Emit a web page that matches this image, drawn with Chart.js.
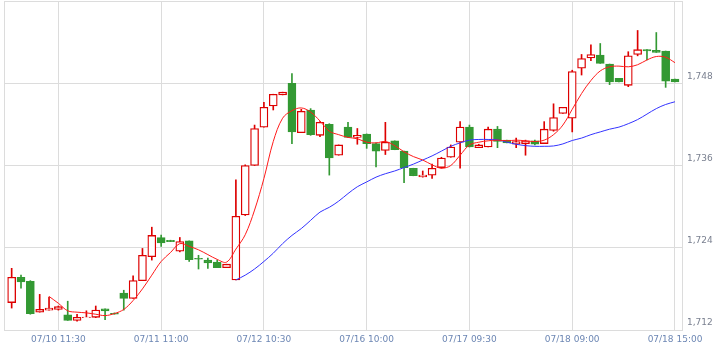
<!DOCTYPE html>
<html>
<head>
<meta charset="utf-8">
<script src="https://cdn.jsdelivr.net/npm/chart.js@4/dist/chart.umd.min.js"></script>
<style>
  body { margin: 0; background: #fff; }
  canvas { display: block; }
</style>
</head>
<body>
<canvas id="candleChart" width="723" height="351"></canvas>
<script>
// candle values, one entry per bar (index 0..71)
const opens = [1716.0, 1719.7, 1719.1, 1714.6, 1714.9, 1715.0, 1714.2, 1713.4, 1713.8, 1713.85,
  1715.1, 1714.45, 1717.4, 1716.6, 1719.2, 1722.7, 1725.5, 1725.1, 1723.5, 1725.0,
  1722.45, 1722.2, 1721.9, 1721.1, 1719.3, 1728.8, 1736.0, 1741.6, 1744.7, 1746.3,
  1748.0, 1740.8, 1744.1, 1740.4, 1742.0, 1737.5, 1741.6, 1740.1, 1740.6, 1739.2,
  1738.2, 1739.6, 1738.1, 1735.6, 1734.35, 1734.6, 1735.7, 1737.2, 1739.4, 1741.6,
  1738.6, 1738.7, 1741.3, 1739.7, 1739.1, 1739.2, 1739.6, 1739.2, 1741.1, 1743.6,
  1742.9, 1750.2, 1751.7, 1752.1, 1750.8, 1748.7, 1747.7, 1752.2, 1752.9, 1752.8,
  1752.7, 1748.6];
const highs = [1721.0, 1720.0, 1719.2, 1717.2, 1716.8, 1715.5, 1716.2, 1714.3, 1714.8, 1715.5,
  1715.1, 1714.5, 1717.8, 1719.9, 1723.9, 1727.0, 1725.85, 1725.1, 1725.5, 1725.0,
  1722.9, 1722.5, 1722.2, 1721.6, 1733.9, 1736.1, 1741.9, 1745.2, 1746.4, 1746.7,
  1749.4, 1744.2, 1744.3, 1742.4, 1742.1, 1739.0, 1742.3, 1741.4, 1740.6, 1739.3,
  1742.3, 1739.6, 1738.1, 1735.6, 1735.2, 1736.2, 1737.2, 1739.0, 1742.4, 1741.9,
  1739.1, 1741.6, 1741.7, 1739.7, 1740.0, 1739.7, 1739.7, 1742.4, 1745.0, 1744.5,
  1749.9, 1752.2, 1753.6, 1753.8, 1750.8, 1748.7, 1752.6, 1755.7, 1752.9, 1755.4,
  1752.7, 1748.6];
const lows = [1715.2, 1718.1, 1714.3, 1714.6, 1714.9, 1714.9, 1713.4, 1713.3, 1713.8, 1713.8,
  1713.5, 1714.3, 1714.9, 1716.6, 1719.2, 1722.2, 1724.2, 1724.9, 1723.4, 1722.0,
  1720.9, 1721.0, 1721.1, 1721.1, 1719.3, 1728.7, 1736.0, 1741.6, 1744.1, 1746.3,
  1739.2, 1740.8, 1740.4, 1740.2, 1734.6, 1737.5, 1740.1, 1739.1, 1738.5, 1735.8,
  1737.6, 1738.3, 1733.5, 1734.5, 1734.3, 1734.1, 1735.6, 1737.2, 1735.6, 1738.7,
  1738.6, 1738.7, 1738.6, 1739.3, 1738.6, 1737.5, 1739.0, 1739.2, 1741.0, 1743.6,
  1740.9, 1749.2, 1751.3, 1750.9, 1747.8, 1748.2, 1747.5, 1752.0, 1751.4, 1752.5,
  1747.4, 1748.2];
const closes = [1719.7, 1719.0, 1714.4, 1715.0, 1715.2, 1715.4, 1713.4, 1713.85, 1713.9, 1714.9,
  1714.8, 1714.3, 1716.6, 1719.2, 1722.9, 1725.8, 1724.7, 1724.9, 1724.9, 1722.25,
  1722.35, 1721.8, 1721.1, 1721.6, 1728.6, 1736.0, 1741.4, 1744.5, 1746.4, 1746.7,
  1740.9, 1743.9, 1740.5, 1742.3, 1737.1, 1739.0, 1740.1, 1740.4, 1739.2, 1738.1,
  1739.4, 1738.3, 1735.7, 1734.5, 1734.6, 1735.6, 1737.1, 1738.7, 1741.6, 1738.7,
  1739.0, 1741.3, 1739.5, 1739.3, 1739.5, 1739.6, 1739.1, 1741.3, 1743.0, 1744.5,
  1749.7, 1751.6, 1752.2, 1750.9, 1748.2, 1748.2, 1752.0, 1752.9, 1752.7, 1752.5,
  1748.3, 1748.2];

// moving average lines
const maShortStart = 4;
const maShort = [1716.9, 1715.9, 1714.8, 1714.6, 1714.5, 1714.3, 1714.1, 1714.4, 1715.0, 1716.3,
  1718.0, 1720.0, 1722.0, 1723.3, 1724.6, 1724.2, 1723.7, 1723.0, 1722.3, 1721.9,
  1723.8, 1725.9, 1729.5, 1734.1, 1739.5, 1742.9, 1744.0, 1744.4, 1743.8, 1742.5,
  1741.0, 1740.5, 1740.1, 1739.9, 1739.4, 1739.3, 1739.5, 1738.9, 1738.0, 1737.3,
  1736.8, 1736.1, 1735.6, 1736.0, 1737.5, 1739.0, 1739.4, 1739.6, 1739.7, 1739.6,
  1739.7, 1739.6, 1739.5, 1739.7, 1740.5, 1741.9, 1744.2, 1746.5, 1748.4, 1749.8,
  1750.4, 1750.5, 1750.4, 1750.7, 1751.4, 1751.9, 1751.8, 1751.0];
const maLongStart = 24;
const maLong = [1719.3, 1720.0, 1720.9, 1722.0, 1723.2, 1724.6, 1725.8, 1726.8, 1728.0, 1729.2,
  1729.9, 1730.8, 1731.9, 1732.9, 1733.6, 1734.3, 1734.8, 1735.2, 1735.7, 1736.2,
  1736.8, 1737.4, 1738.1, 1738.8, 1739.3, 1739.7, 1739.8, 1739.8, 1739.75, 1739.4,
  1739.1, 1738.9, 1738.8, 1738.8, 1738.85, 1739.15, 1739.65, 1740.0, 1740.5, 1740.9,
  1741.3, 1741.6, 1742.1, 1742.7, 1743.5, 1744.3, 1744.9, 1745.3];

const tickPos = [5, 16, 27, 38, 49, 60, 71];
const tickLabels = ["07/10 11:30", "07/11 11:00", "07/12 10:30", "07/16 10:00",
  "07/17 09:30", "07/18 09:00", "07/18 15:00"];
const yTicks = [1712, 1724, 1736, 1748, 1760];

const upColor = "#dd0000";
const downColor = "#339933";

function isUp(i) {
  return closes[i] >= opens[i];
}

function wickData() {
  return opens.map((_, i) => ({ x: i, y: [lows[i], highs[i]] }));
}

function bodyData() {
  return opens.map((o, i) => ({ x: i, y: [o, closes[i]] }));
}

function lineData(start, values) {
  return values.map((v, k) => ({ x: start + k, y: v }));
}

const xMin = -0.82;
const xMax = 71.75;

const config = {
  type: "bar",
  data: {
    datasets: [
      {
        type: "line",
        data: lineData(maShortStart, maShort),
        borderColor: "#ff1a1a",
        borderWidth: 1,
        pointRadius: 0,
        tension: 0.35,
        order: 0,
      },
      {
        type: "line",
        data: lineData(maLongStart, maLong),
        borderColor: "#3333ff",
        borderWidth: 1,
        pointRadius: 0,
        tension: 0.35,
        order: 0,
      },
      {
        data: bodyData(),
        grouped: false,
        barThickness: 8,
        borderSkipped: false,
        borderWidth: 1.3,
        backgroundColor: (ctx) => (isUp(ctx.dataIndex) ? "#ffffff" : downColor),
        borderColor: (ctx) => (isUp(ctx.dataIndex) ? upColor : downColor),
        order: 1,
      },
      {
        data: wickData(),
        grouped: false,
        barThickness: 1,
        borderWidth: 0,
        backgroundColor: (ctx) => (isUp(ctx.dataIndex) ? upColor : downColor),
        order: 2,
      },
    ],
  },
  options: {
    responsive: false,
    animation: false,
    layout: { padding: { left: 4, top: 1, right: 0, bottom: 0 } },
    plugins: { legend: { display: false }, tooltip: { enabled: false } },
    scales: {
      x: {
        type: "linear",
        min: xMin,
        max: xMax,
        offset: false,
        grid: { offset: false, color: "#dcdcdc", drawTicks: false },
        border: { color: "#dcdcdc" },
        afterBuildTicks: (axis) => {
          axis.ticks = [xMin].concat(tickPos).map((v) => ({ value: v }));
        },
        afterFit: (axis) => {
          axis.height = 21;
          axis.paddingLeft = 0;
          axis.paddingRight = 0;
        },
        ticks: {
          autoSkip: false,
          maxRotation: 0,
          padding: 4,
          color: "#6d87b4",
          font: { family: "DejaVu Sans", size: 9 },
          callback: (v) => {
            let k = tickPos.indexOf(v);
            return k < 0 ? "" : tickLabels[k];
          },
        },
      },
      y: {
        position: "right",
        min: 1712,
        max: 1760,
        grid: { color: "#dcdcdc", drawTicks: false },
        border: { color: "#dcdcdc" },
        afterBuildTicks: (axis) => {
          axis.ticks = yTicks.map((v) => ({ value: v }));
        },
        afterFit: (axis) => {
          axis.width = 41;
          axis.paddingTop = 0;
          axis.paddingBottom = 0;
        },
        ticks: {
          padding: 5,
          labelOffset: -7,
          color: "#7a8090",
          font: { family: "DejaVu Sans", size: 9 },
          callback: (v) => (v === 1760 ? "" : v.toLocaleString("en-US")),
        },
      },
    },
  },
};

new Chart(document.getElementById("candleChart").getContext("2d"), config);
</script>
</body>
</html>
